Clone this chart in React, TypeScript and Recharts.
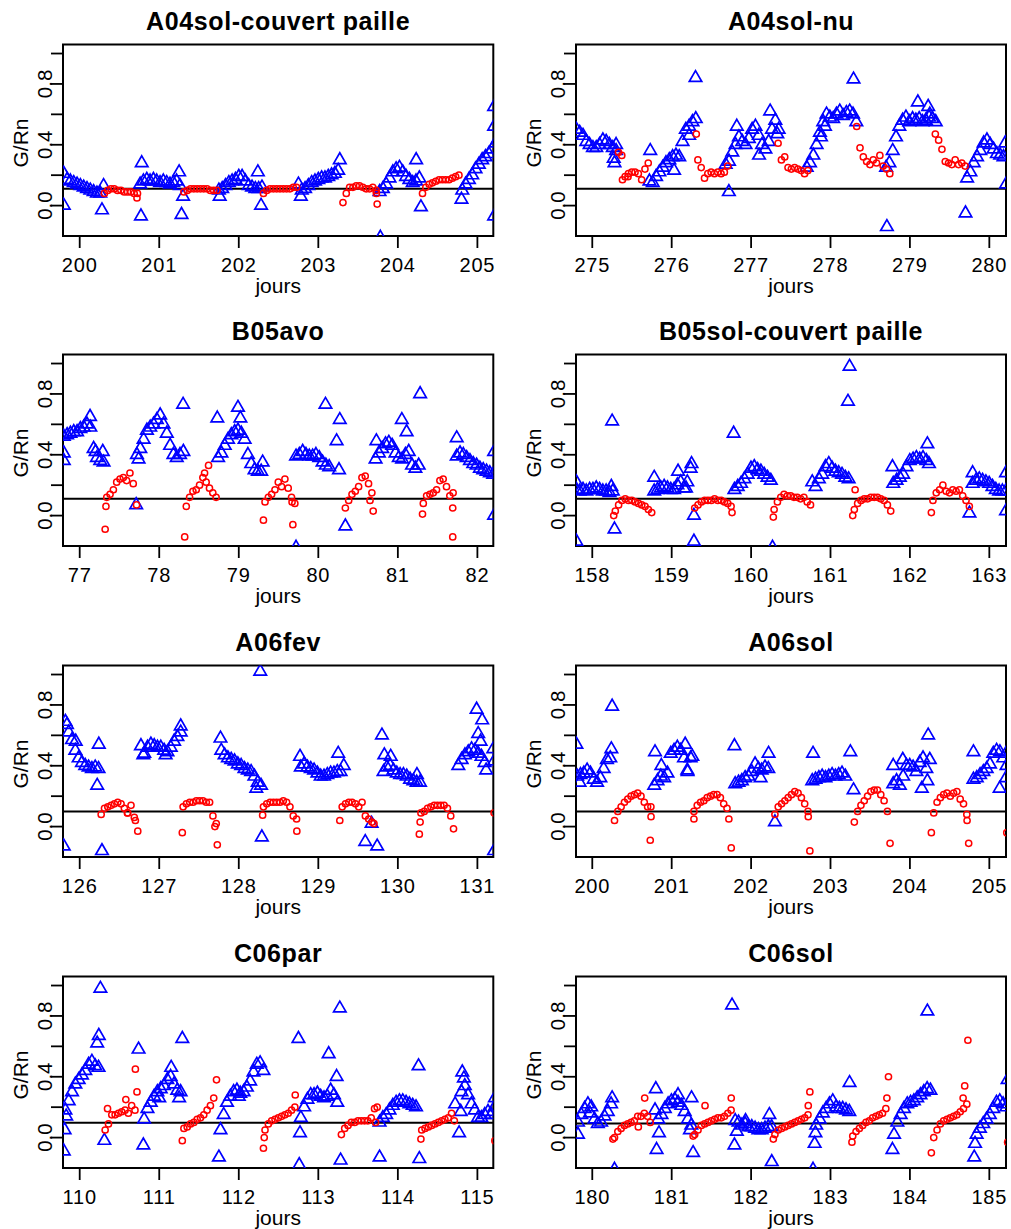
import React from "react";
import { ScatterChart, Scatter, XAxis, YAxis, ReferenceLine, ReferenceArea } from "recharts";

type Run = [number, number[]];
const HOUR = 1 / 24;

const titles = ["A04sol-couvert paille", "A04sol-nu", "B05avo", "B05sol-couvert paille", "A06fev", "A06sol", "C06par", "C06sol"];
const xTicks = [
  [200, 201, 202, 203, 204, 205],
  [275, 276, 277, 278, 279, 280],
  [77, 78, 79, 80, 81, 82],
  [158, 159, 160, 161, 162, 163],
  [126, 127, 128, 129, 130, 131],
  [200, 201, 202, 203, 204, 205],
  [110, 111, 112, 113, 114, 115],
  [180, 181, 182, 183, 184, 185],
];
const xDomains: [number, number][] = [
  [199.79, 205.2], [274.795, 280.21], [76.79, 82.2], [157.795, 163.21],
  [125.79, 131.2], [199.795, 205.21], [109.79, 115.2], [179.795, 185.21],
];
const yDomain: [number, number] = [-0.2, 1.06];
const yTicks = [0, 0.2, 0.4, 0.6, 0.8, 1.0];
const yTickLabels: Record<string, string> = { "0": "0.0", "0.4": "0.4", "0.8": "0.8" };
const refLevels = [0.11, 0.11, 0.11, 0.11, 0.1, 0.1, 0.097, 0.092];

// ---- A04sol-couvert paille
const a04cpBlue: Run[] = [
  [199.80, [0.21, 0.17, 0.16, 0.15, 0.14, 0.13, 0.12, 0.11, 0.10, 0.09, 0.08, 0.08, 0.13]],
  [199.80, [0.0]], [200.28, [-0.03]],
  [200.76, [0.14, 0.16, 0.17, 0.16, 0.17, 0.16, 0.15, 0.16, 0.15, 0.14, 0.15, 0.16, 0.13]],
  [200.78, [0.28]], [200.77, [-0.07]], [201.25, [0.22]], [201.28, [-0.06]], [201.30, [0.06]],
  [201.75, [0.10, 0.11, 0.13, 0.15, 0.16, 0.17, 0.19, 0.19, 0.16, 0.13, 0.12, 0.11, 0.11, 0.12]],
  [201.76, [0.06]], [202.24, [0.22]], [202.28, [0.0]],
  [202.75, [0.14, 0.10, 0.11, 0.13, 0.15, 0.16, 0.17, 0.18, 0.18, 0.19, 0.20, 0.21, 0.23]],
  [202.78, [0.06]], [203.27, [0.30]],
  [203.77, [0.09, 0.11, 0.14, 0.18, 0.22, 0.24, 0.25, 0.22, 0.19, 0.17, 0.15, 0.16, 0.18]],
  [203.78, [-0.21]], [204.23, [0.30]], [204.29, [-0.01]],
  [204.81, [0.10, 0.14, 0.17, 0.20, 0.24, 0.27, 0.30, 0.32, 0.34, 0.37, 0.41]],
  [204.80, [0.04]], [205.21, [0.65]], [205.21, [0.52]], [205.21, [-0.07]],
];
const a04cpRed: Run[] = [
  [200.31, [0.08, 0.10, 0.11, 0.11, 0.10, 0.10, 0.09, 0.09, 0.09, 0.08, 0.08]], [200.72, [0.05]],
  [201.31, [0.09, 0.10, 0.11, 0.11, 0.11, 0.11, 0.11, 0.11, 0.10, 0.10, 0.10]],
  [202.31, [0.08, 0.10, 0.11, 0.11, 0.11, 0.11, 0.11, 0.11, 0.11, 0.12, 0.12]],
  [203.31, [0.02, 0.08, 0.12, 0.12, 0.13, 0.13, 0.12, 0.11, 0.11, 0.12, 0.10]], [203.74, [0.01]], [203.73, [0.08]],
  [204.31, [0.08, 0.12, 0.14, 0.15, 0.16, 0.17, 0.17, 0.17, 0.17, 0.18, 0.19, 0.20]],
];

// ---- A04sol-nu
const a04nuBlue: Run[] = [
  [274.80, [0.50, 0.48, 0.46, 0.42, 0.40, 0.38, 0.38, 0.40, 0.43, 0.42, 0.40, 0.38, 0.36]],
  [275.27, [0.31]], [275.28, [0.28]], [275.30, [0.40]],
  [275.72, [0.16, 0.15, 0.19, 0.22, 0.25, 0.28, 0.30, 0.32, 0.33, 0.32, 0.42, 0.50, 0.52, 0.55, 0.57]],
  [275.73, [0.36]], [276.03, [0.23]], [276.30, [0.84]], [276.22, [0.46]],
  [276.68, [0.27, 0.29, 0.35, 0.40, 0.45, 0.42, 0.40, 0.44, 0.50, 0.52, 0.46, 0.40, 0.37, 0.42, 0.50, 0.56, 0.50]],
  [276.72, [0.09]], [276.82, [0.52]], [277.10, [0.33]], [277.24, [0.62]], [277.33, [0.47]],
  [277.70, [0.25, 0.28, 0.33, 0.40, 0.48, 0.55, 0.60, 0.58, 0.57, 0.60, 0.62, 0.59, 0.61, 0.62, 0.60, 0.55]],
  [277.88, [0.45]], [277.93, [0.52]], [278.29, [0.83]],
  [278.70, [0.25, 0.28, 0.36, 0.45, 0.52, 0.56, 0.58, 0.55, 0.57, 0.56, 0.57, 0.55, 0.56, 0.58, 0.57, 0.55]],
  [278.71, [-0.14]], [279.10, [0.68]], [279.23, [0.65]], [279.25, [0.60]],
  [279.72, [0.18, 0.22, 0.28, 0.32, 0.36, 0.41, 0.43, 0.40, 0.37, 0.34, 0.33, 0.32]],
  [279.70, [-0.05]], [280.20, [0.41]], [280.21, [0.14]],
];
const a04nuRed: Run[] = [
  [275.33, [0.35, 0.33, 0.19, 0.21, 0.22, 0.22, 0.21, 0.17, 0.24, 0.28]], [275.38, [0.17]], [275.45, [0.19]],
  [276.33, [0.30, 0.25, 0.18, 0.21, 0.22, 0.21, 0.22, 0.21, 0.22, 0.26]], [276.31, [0.47]],
  [277.34, [0.41, 0.30, 0.32, 0.25, 0.24, 0.25, 0.24, 0.23, 0.21, 0.23]],
  [278.33, [0.52, 0.38, 0.32, 0.29, 0.27, 0.30, 0.28, 0.33, 0.26, 0.24, 0.21]],
  [279.32, [0.47, 0.43, 0.37, 0.29, 0.28, 0.27, 0.30, 0.27, 0.28, 0.26]],
];

// ---- B05avo
const b05avoBlue: Run[] = [
  [76.80, [0.52, 0.53, 0.54, 0.55, 0.55, 0.57, 0.58, 0.60, 0.58, 0.44, 0.38, 0.36, 0.35]],
  [76.80, [0.41]], [76.80, [0.36]], [77.13, [0.65]], [77.20, [0.42]], [77.29, [0.42]],
  [77.72, [0.40, 0.44, 0.50, 0.56, 0.58, 0.60, 0.63, 0.66, 0.60, 0.54, 0.46, 0.40, 0.38, 0.40, 0.42]],
  [77.71, [0.07]], [77.74, [0.37]], [78.30, [0.73]],
  [78.74, [0.38, 0.41, 0.46, 0.50, 0.53, 0.55, 0.56, 0.54, 0.50, 0.40, 0.34, 0.30, 0.29, 0.29]],
  [78.73, [0.64]], [78.99, [0.71]], [79.02, [0.64]], [79.30, [0.35]],
  [79.72, [0.39, 0.40, 0.42, 0.40, 0.39, 0.39, 0.40, 0.38, 0.35, 0.33, 0.32]],
  [79.72, [-0.21]], [80.09, [0.73]], [80.23, [0.49]], [80.27, [0.63]], [80.26, [0.30]], [80.34, [-0.07]],
  [80.72, [0.37, 0.41, 0.44, 0.47, 0.48, 0.46, 0.41, 0.38, 0.37, 0.40, 0.42, 0.33, 0.31, 0.33]],
  [80.73, [0.49]], [81.05, [0.63]], [81.11, [0.55]], [81.28, [0.80]],
  [81.74, [0.39, 0.41, 0.40, 0.38, 0.36, 0.34, 0.33, 0.31, 0.30, 0.29, 0.28, 0.27]],
  [81.74, [0.51]], [82.21, [0.42]], [82.21, [0.0]],
];
const b05avoRed: Run[] = [
  [77.34, [0.12, 0.14, 0.17, 0.22, 0.24, 0.25, 0.23, 0.28, 0.21, 0.07]], [77.32, [-0.09]], [77.33, [0.06]],
  [78.34, [0.06, 0.12, 0.16, 0.17, 0.20, 0.25, 0.22, 0.18, 0.15, 0.12]], [78.32, [-0.14]], [78.62, [0.33]], [78.57, [0.28]],
  [79.33, [0.09, 0.12, 0.14, 0.17, 0.22, 0.19, 0.24, 0.18, 0.12, 0.08]], [79.31, [-0.03]], [79.68, [-0.06]], [79.67, [0.09]],
  [80.34, [0.05, 0.10, 0.14, 0.16, 0.19, 0.25, 0.26, 0.21, 0.15]], [80.65, [0.10]], [80.69, [0.03]],
  [81.32, [0.08, 0.13, 0.14, 0.15, 0.17, 0.23, 0.24, 0.19, 0.13, 0.15]], [81.31, [0.01]], [81.69, [0.05]], [81.69, [-0.14]],
];

// ---- B05sol-couvert paille
const b05cpBlue: Run[] = [
  [157.80, [0.17, 0.16, 0.17, 0.16, 0.17, 0.17, 0.18, 0.17, 0.16, 0.16, 0.15, 0.16]],
  [157.80, [0.22]], [157.80, [-0.17]], [158.25, [0.62]], [158.28, [-0.09]], [158.24, [0.19]],
  [158.78, [0.16, 0.17, 0.18, 0.19, 0.18, 0.17, 0.17, 0.20, 0.22, 0.18, 0.22, 0.31]],
  [158.78, [0.25]], [159.08, [0.29]], [159.18, [0.18]], [159.25, [0.34]], [159.28, [0.0]], [159.28, [-0.17]],
  [159.79, [0.17, 0.19, 0.21, 0.24, 0.27, 0.31, 0.32, 0.30, 0.29, 0.27, 0.25, 0.23]],
  [159.78, [0.54]], [160.27, [-0.21]],
  [160.77, [0.22, 0.19, 0.24, 0.27, 0.32, 0.34, 0.31, 0.29, 0.28, 0.27, 0.25, 0.24]],
  [161.24, [0.98]], [161.22, [0.75]],
  [161.79, [0.21, 0.23, 0.25, 0.27, 0.32, 0.36, 0.37, 0.38, 0.37, 0.38, 0.36]],
  [161.78, [0.32]], [162.22, [0.47]], [162.24, [0.34]],
  [162.79, [0.21, 0.23, 0.24, 0.23, 0.22, 0.21, 0.19, 0.17, 0.16, 0.16, 0.16]],
  [162.75, [0.015]], [162.79, [0.28]], [163.21, [0.28]], [163.21, [0.03]],
];
const b05cpRed: Run[] = [
  [158.29, [0.03, 0.07, 0.10, 0.11, 0.10, 0.10, 0.09, 0.08, 0.07, 0.06, 0.04, 0.02]], [158.27, [0.0]],
  [159.29, [0.05, 0.07, 0.09, 0.10, 0.10, 0.10, 0.11, 0.10, 0.10, 0.09, 0.08, 0.06]], [159.76, [0.02]],
  [160.29, [0.04, 0.09, 0.12, 0.14, 0.13, 0.13, 0.12, 0.12, 0.11, 0.12, 0.09, 0.07]], [160.28, [-0.01]],
  [161.30, [0.04, 0.08, 0.10, 0.11, 0.11, 0.12, 0.12, 0.12, 0.11, 0.10, 0.07, 0.03]], [161.28, [0.0]], [161.31, [0.17]],
  [162.29, [0.10, 0.15, 0.17, 0.20, 0.16, 0.15, 0.17, 0.16, 0.17, 0.13, 0.10, 0.06]], [162.27, [0.02]],
];

// ---- A06fev
const a06fevBlue: Run[] = [
  [125.82, [0.69, 0.62, 0.57, 0.50, 0.45, 0.42, 0.40, 0.39, 0.38, 0.39, 0.38]],
  [125.84, [0.67]], [125.95, [0.56]], [126.24, [0.54]], [126.22, [0.27]], [126.28, [-0.16]], [125.80, [-0.13]],
  [126.77, [0.53, 0.48, 0.52, 0.54, 0.53, 0.52, 0.52, 0.50, 0.49, 0.52, 0.56, 0.59, 0.62]],
  [126.80, [0.47]], [127.27, [0.66]], [127.08, [0.47]],
  [127.78, [0.50, 0.47, 0.45, 0.44, 0.43, 0.41, 0.40, 0.38, 0.37, 0.36, 0.33, 0.29, 0.27]],
  [127.77, [0.58]], [128.27, [1.02]], [128.29, [-0.07]], [128.22, [0.25]],
  [128.78, [0.39, 0.41, 0.39, 0.38, 0.37, 0.35, 0.33, 0.33, 0.34, 0.35, 0.35, 0.36, 0.36]],
  [128.77, [0.46]], [129.25, [0.48]], [129.32, [0.40]],
  [129.82, [0.36, 0.39, 0.40, 0.37, 0.35, 0.34, 0.34, 0.33, 0.31, 0.30, 0.29, 0.29]],
  [129.59, [-0.10]], [129.67, [0.02]], [129.74, [-0.13]], [129.80, [0.60]], [129.83, [0.47]], [129.91, [0.46]], [130.24, [0.34]],
  [130.76, [0.40, 0.44, 0.47, 0.49, 0.51, 0.50, 0.48, 0.46]],
  [130.99, [0.77]], [131.01, [0.61]], [131.06, [0.70]], [131.04, [0.56]], [131.09, [0.42]], [131.11, [0.37]],
  [131.20, [0.51]], [131.21, [0.43]], [131.21, [-0.16]],
];
const a06fevRed: Run[] = [
  [126.27, [0.08, 0.12, 0.13, 0.14, 0.15, 0.16, 0.15, 0.12, 0.09, 0.14, 0.06]], [126.70, [0.04]], [126.73, [-0.03]], [126.60, [0.09]],
  [127.30, [0.13, 0.15, 0.16, 0.16, 0.17, 0.17, 0.17, 0.16, 0.16, 0.07, 0.02]], [127.29, [-0.04]], [127.70, [0.0]], [127.73, [-0.12]],
  [128.31, [0.13, 0.15, 0.16, 0.16, 0.16, 0.16, 0.17, 0.16, 0.13, 0.07, 0.05]], [128.30, [0.075]], [128.73, [-0.03]],
  [129.30, [0.13, 0.15, 0.16, 0.16, 0.15, 0.13, 0.16, 0.07, 0.05, 0.03]], [129.27, [0.04]], [129.70, [0.02]],
  [130.29, [0.09, 0.10, 0.12, 0.13, 0.14, 0.14, 0.14, 0.14, 0.12, 0.07]], [130.27, [-0.05]], [130.28, [0.03]], [130.70, [-0.015]],
  [131.21, [0.09]],
];

// ---- A06sol
const a06solBlue: Run[] = [
  [199.81, [0.33, 0.34, 0.35, 0.37, 0.35, 0.31, 0.29, 0.32, 0.38, 0.44, 0.45]],
  [199.80, [0.54]], [199.84, [0.29]], [200.24, [0.51]], [200.25, [0.79]],
  [200.78, [0.27, 0.30, 0.33, 0.32, 0.35, 0.48, 0.50, 0.52, 0.50, 0.45, 0.37, 0.45]],
  [200.79, [0.49]], [200.87, [0.40]], [201.17, [0.54]], [201.20, [0.36]], [201.26, [0.46]],
  [201.80, [0.28, 0.29, 0.30, 0.32, 0.33, 0.36, 0.41, 0.38, 0.37, 0.39, 0.38]],
  [201.79, [0.53]], [202.12, [0.32]], [202.22, [0.48]], [202.30, [0.03]],
  [202.77, [0.30, 0.31, 0.32, 0.33, 0.32, 0.33, 0.34, 0.33, 0.34, 0.35, 0.33]],
  [202.78, [0.48]], [203.25, [0.49]], [203.29, [0.24]],
  [203.79, [0.28, 0.30, 0.27, 0.33, 0.40, 0.40, 0.39, 0.36, 0.42, 0.45, 0.38]],
  [203.79, [0.40]], [203.91, [0.44]], [204.15, [0.25]], [204.22, [0.30]], [204.23, [0.60]], [204.25, [0.44]],
  [204.80, [0.31, 0.32, 0.34, 0.36, 0.38, 0.41, 0.48, 0.50, 0.49, 0.45, 0.40]],
  [204.80, [0.49]], [205.13, [0.25]], [205.21, [0.32]], [205.21, [0.48]],
];
const a06solRed: Run[] = [
  [200.28, [0.04, 0.10, 0.13, 0.16, 0.18, 0.20, 0.21, 0.22, 0.20, 0.16, 0.13, 0.13]], [200.74, [0.065]], [200.73, [-0.09]],
  [201.28, [0.10, 0.14, 0.16, 0.17, 0.19, 0.20, 0.21, 0.21, 0.19, 0.15, 0.12]], [201.28, [0.05]], [201.72, [0.05]], [201.75, [-0.14]],
  [202.30, [0.08, 0.13, 0.15, 0.17, 0.19, 0.21, 0.23, 0.22, 0.19, 0.15, 0.10]], [202.72, [0.065]], [202.74, [-0.16]],
  [203.30, [0.03, 0.10, 0.14, 0.17, 0.20, 0.23, 0.24, 0.24, 0.21, 0.17, 0.10]], [203.75, [-0.11]],
  [204.30, [0.09, 0.16, 0.19, 0.21, 0.22, 0.20, 0.22, 0.23, 0.18, 0.15, 0.08]], [204.27, [-0.04]], [204.72, [0.04]], [204.74, [-0.11]],
  [205.22, [-0.04]],
];

// ---- C06par
const c06parBlue: Run[] = [
  [109.82, [0.18, 0.24, 0.30, 0.35, 0.38, 0.41, 0.44, 0.48, 0.50, 0.47, 0.46]],
  [109.80, [-0.09]], [109.81, [0.05]], [109.83, [0.14]], [110.22, [0.62]], [110.24, [0.67]], [110.26, [0.98]], [110.31, [-0.02]],
  [110.81, [0.12, 0.19, 0.23, 0.27, 0.30, 0.32, 0.34, 0.38, 0.40, 0.35, 0.31, 0.30]],
  [110.74, [0.58]], [110.80, [-0.05]], [111.00, [0.26]], [111.15, [0.46]], [111.25, [0.26]], [111.29, [0.65]],
  [111.81, [0.15, 0.23, 0.27, 0.30, 0.31, 0.29, 0.30, 0.33, 0.37, 0.43, 0.48, 0.49, 0.44]],
  [111.75, [-0.13]], [111.77, [0.05]], [112.00, [0.27]],
  [112.78, [0.13, 0.20, 0.25, 0.28, 0.28, 0.29, 0.27, 0.26, 0.27, 0.31, 0.28, 0.23]],
  [112.75, [0.65]], [112.76, [-0.18]], [112.77, [0.03]], [113.13, [0.55]], [113.23, [0.40]], [113.27, [0.85]], [113.28, [-0.15]],
  [113.77, [0.10, 0.13, 0.15, 0.18, 0.21, 0.23, 0.24, 0.24, 0.23, 0.22, 0.21, 0.20]],
  [113.77, [-0.13]], [114.26, [0.47]], [114.27, [-0.14]],
  [114.80, [0.30, 0.34, 0.28, 0.22, 0.18, 0.13, 0.13, 0.15, 0.17, 0.15, 0.20]],
  [114.72, [0.22]], [114.77, [0.03]], [114.79, [0.17]], [114.81, [0.43]], [114.83, [0.39]], [115.22, [0.26]],
];
const c06parRed: Run[] = [
  [110.32, [0.05, 0.09, 0.15, 0.15, 0.16, 0.17, 0.18, 0.16, 0.21, 0.18]], [110.35, [0.19]], [110.58, [0.25]], [110.70, [0.45]], [110.72, [0.30]],
  [111.31, [0.06, 0.07, 0.09, 0.10, 0.12, 0.13, 0.15, 0.18, 0.21, 0.26]], [111.29, [-0.02]], [111.72, [0.38]],
  [112.33, [0.05, 0.09, 0.11, 0.12, 0.13, 0.14, 0.15, 0.16, 0.18, 0.20]], [112.31, [-0.07]], [112.32, [0.0]], [112.71, [0.28]],
  [113.29, [0.02, 0.06, 0.08, 0.10, 0.10, 0.11, 0.11, 0.11, 0.11, 0.13, 0.19]], [113.72, [0.10]], [113.74, [0.20]],
  [114.30, [0.05, 0.06, 0.07, 0.08, 0.09, 0.10, 0.11, 0.12, 0.13, 0.16]], [114.29, [-0.01]], [114.71, [0.11]],
  [115.22, [-0.02]],
];

// ---- C06sol
const c06solBlue: Run[] = [
  [179.82, [0.10, 0.15, 0.19, 0.22, 0.20, 0.12, 0.09, 0.10, 0.14, 0.17, 0.22]],
  [179.82, [0.02]], [179.97, [0.16]], [180.25, [0.26]], [180.28, [-0.21]],
  [180.83, [0.12, 0.15, 0.19, 0.22, 0.24, 0.25, 0.23, 0.21, 0.17, 0.12, 0.08]],
  [180.80, [0.32]], [180.79, [0.18]], [180.81, [-0.08]], [180.84, [0.03]], [181.08, [0.28]], [181.25, [0.26]], [181.27, [-0.10]], [181.23, [0.05]],
  [181.80, [0.11, 0.10, 0.08, 0.09, 0.07, 0.07, 0.06, 0.05, 0.05, 0.06, 0.07, 0.07]],
  [181.76, [0.87]], [181.79, [-0.05]], [181.82, [0.04]], [181.93, [0.11]], [182.23, [0.15]], [182.26, [-0.16]],
  [182.82, [0.08, 0.12, 0.16, 0.19, 0.22, 0.24, 0.20, 0.19, 0.19, 0.18, 0.17]],
  [182.78, [-0.21]], [182.80, [-0.04]], [182.81, [0.03]], [183.24, [0.36]],
  [183.80, [0.02, 0.10, 0.15, 0.19, 0.22, 0.23, 0.24, 0.26, 0.28, 0.30, 0.32, 0.31]],
  [183.78, [-0.08]], [184.22, [0.83]],
  [184.84, [0.02, 0.06, 0.09, 0.12, 0.15, 0.19, 0.23, 0.24, 0.22, 0.20]],
  [184.81, [-0.13]], [184.82, [-0.04]], [185.23, [0.38]],
];
const c06solRed: Run[] = [
  [180.28, [0.00, 0.04, 0.06, 0.08, 0.09, 0.10, 0.11, 0.14, 0.14, 0.16, 0.14]], [180.26, [-0.01]], [180.58, [0.07]], [180.66, [0.26]], [180.73, [0.10]],
  [181.29, [0.02, 0.05, 0.08, 0.09, 0.10, 0.11, 0.12, 0.13, 0.13, 0.14, 0.16, 0.18]], [181.27, [0.01]], [181.42, [0.21]], [181.75, [0.26]],
  [182.30, [0.02, 0.05, 0.06, 0.07, 0.08, 0.09, 0.10, 0.11, 0.12, 0.13, 0.15]], [182.28, [-0.01]], [182.72, [0.21]], [182.74, [0.30]],
  [183.28, [0.01, 0.04, 0.06, 0.08, 0.10, 0.11, 0.13, 0.14, 0.15, 0.16, 0.19]], [183.27, [-0.03]], [183.71, [0.26]], [183.73, [0.40]],
  [184.30, [0.00, 0.05, 0.09, 0.11, 0.12, 0.13, 0.14, 0.15, 0.17, 0.19, 0.22]], [184.27, [-0.10]], [184.67, [0.26]], [184.69, [0.34]], [184.73, [0.64]],
  [185.23, [-0.03]],
];

const blueSeries = [a04cpBlue, a04nuBlue, b05avoBlue, b05cpBlue, a06fevBlue, a06solBlue, c06parBlue, c06solBlue];
const redSeries = [a04cpRed, a04nuRed, b05avoRed, b05cpRed, a06fevRed, a06solRed, c06parRed, c06solRed];

function expand(runs: Run[]) {
  const out: { x: number; y: number }[] = [];
  runs.forEach(([t0, vals]) => vals.forEach((v, i) => out.push({ x: t0 + i * HOUR, y: v })));
  return out;
}

const FONT = "'Liberation Sans', Arial, Helvetica, sans-serif";
const COLS = [
  { left: 0, width: 505, plotLeft: 63, plotRight: 493.3 },
  { left: 505, width: 506, plotLeft: 71, plotRight: 501 },
];
const ROW_TOPS = [0, 310, 621, 932];
const PLOT_TOP = 44.4;
const PLOT_BOTTOM = 236;
const CHART_H = 297;

const Tri = (p: any) => {
  const { cx, cy } = p;
  if (cx == null || cy == null) return <g />;
  const r = 7.2;
  const h = r * 0.866;
  return (
    <polygon
      points={`${cx},${cy - r} ${cx + h},${cy + r / 2} ${cx - h},${cy + r / 2}`}
      fill="none"
      stroke="#0000FF"
      strokeWidth={1.7}
    />
  );
};
const Circ = (p: any) => {
  const { cx, cy } = p;
  if (cx == null || cy == null) return <g />;
  return <circle cx={cx} cy={cy} r={3.1} fill="none" stroke="#FF0000" strokeWidth={1.5} />;
};

const XTick = (p: any) => (
  <text x={p.x} y={p.y + 24} textAnchor="middle" fontSize={20} letterSpacing={0.8} fontFamily={FONT} fill="#000">
    {p.payload.value}
  </text>
);
const YTick = (p: any) => {
  const lab = yTickLabels[String(p.payload.value)];
  if (!lab) return <g />;
  const bx = p.x + 1;
  return (
    <text x={bx} y={p.y} transform={`rotate(-90 ${bx} ${p.y})`} textAnchor="middle" fontSize={20.5} fontFamily={FONT} fill="#000">
      {lab}
    </text>
  );
};

function Panel({ i }: { i: number }) {
  const col = i % 2;
  const row = Math.floor(i / 2);
  const c = COLS[col];
  const top = ROW_TOPS[row];
  const plotW = c.plotRight - c.plotLeft;
  const cx = c.plotLeft + plotW / 2;
  const cy = (PLOT_TOP + PLOT_BOTTOM) / 2;
  const blue = expand(blueSeries[i]);
  const red = expand(redSeries[i]);
  const [d0, d1] = xDomains[i];
  return (
    <div style={{ position: "absolute", left: c.left, top, width: c.width, height: CHART_H }}>
      <ScatterChart
        width={c.width}
        height={CHART_H}
        margin={{ top: PLOT_TOP, right: c.width - c.plotRight, bottom: 0, left: 0 }}
      >
        <XAxis
          type="number"
          dataKey="x"
          domain={xDomains[i]}
          ticks={xTicks[i]}
          interval={0}
          allowDataOverflow
          height={CHART_H - PLOT_BOTTOM}
          axisLine={false}
          tickSize={12}
          tickMargin={0}
          stroke="#000"
          tickLine={{ stroke: "#000", strokeWidth: 1.8 }}
          tick={XTick}
        />
        <YAxis
          type="number"
          dataKey="y"
          domain={yDomain}
          ticks={yTicks}
          interval={0}
          allowDataOverflow
          width={c.plotLeft}
          axisLine={false}
          tickSize={12}
          tickMargin={0}
          stroke="#000"
          tickLine={{ stroke: "#000", strokeWidth: 1.8 }}
          tick={YTick}
        />
        <Scatter data={blue} shape={Tri} isAnimationActive={false} />
        <Scatter data={red} shape={Circ} isAnimationActive={false} />
        <ReferenceLine y={refLevels[i]} stroke="#000" strokeWidth={2} />
        <ReferenceArea
          x1={d0}
          x2={d1}
          y1={yDomain[0]}
          y2={yDomain[1]}
          fill="none"
          fillOpacity={0}
          stroke="#000"
          strokeWidth={2}
          ifOverflow="visible"
        />
      </ScatterChart>
      <div
        style={{
          position: "absolute", left: cx - 250, width: 500, top: 6, height: 30, lineHeight: "30px",
          textAlign: "center", fontSize: 25, fontWeight: "bold", letterSpacing: 0.6, fontFamily: FONT, color: "#000",
          pointerEvents: "none",
        }}
      >
        {titles[i]}
      </div>
      <div
        style={{
          position: "absolute", left: cx - 100, width: 200, top: 274, height: 24, lineHeight: "24px",
          textAlign: "center", fontSize: 21, fontFamily: FONT, color: "#000", pointerEvents: "none",
        }}
      >
        jours
      </div>
      <div
        style={{
          position: "absolute", left: c.plotLeft - 42 - 50, top: cy + 3 - 12, width: 100, height: 24, lineHeight: "24px",
          textAlign: "center", fontSize: 21, fontFamily: FONT, color: "#000", transform: "rotate(-90deg)",
          pointerEvents: "none",
        }}
      >
        G/Rn
      </div>
    </div>
  );
}

export default function App() {
  return (
    <div
      style={{
        position: "fixed", left: 0, top: 0, width: 1011, height: 1229, background: "#fff", overflow: "hidden",
        fontFamily: FONT,
      }}
    >
      {titles.map((_, i) => (
        <Panel key={i} i={i} />
      ))}
    </div>
  );
}
